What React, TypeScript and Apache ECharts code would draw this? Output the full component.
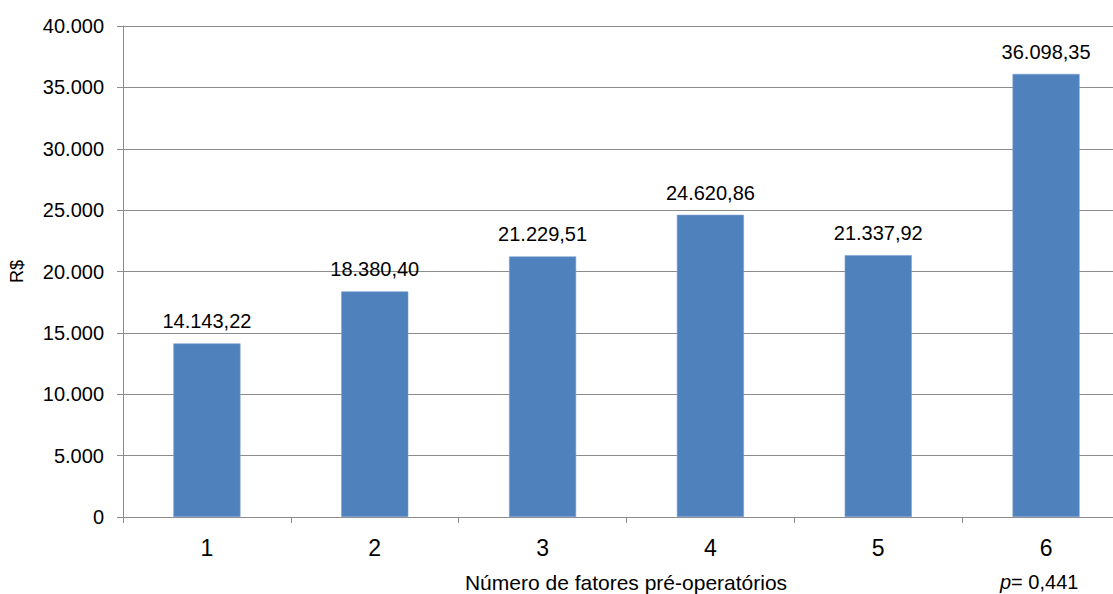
import React, { useEffect, useRef } from "react";
import * as echarts from "echarts";

const categories = ["1", "2", "3", "4", "5", "6"];
const values = [14143.22, 18380.4, 21229.51, 24620.86, 21337.92, 36098.35];
const yTicks = { min: 0, max: 40000, interval: 5000 };
const xTitle = "Número de fatores pré-operatórios";
const yTitle = "R$";
const pValue = "0,441";

const FONT = "Liberation Sans, Arial, sans-serif";

const fmtThousands = (v: number) =>
  Math.round(v).toString().replace(/\B(?=(\d{3})+(?!\d))/g, ".");

const fmtValue = (v: number) => {
  const [i, d] = v.toFixed(2).split(".");
  return fmtThousands(Number(i)) + "," + d;
};

export default function App() {
  const ref = useRef<HTMLDivElement>(null);

  useEffect(() => {
    if (!ref.current) return;
    const chart = echarts.init(ref.current, undefined, { renderer: "svg" });
    chart.setOption({
      animation: false,
      backgroundColor: "#ffffff",
      textStyle: { fontFamily: FONT },
      // the plot runs past the right edge of the visible frame
      grid: { left: 123, top: 26, width: 1007, height: 491 },
      xAxis: {
        type: "category",
        data: categories,
        axisLine: { lineStyle: { color: "#8c8c8c", width: 1 } },
        axisTick: { show: true, length: 6, alignWithLabel: false, lineStyle: { color: "#8c8c8c" } },
        axisLabel: { color: "#000", fontSize: 23, margin: 19, fontFamily: FONT },
      },
      yAxis: {
        type: "value",
        min: yTicks.min,
        max: yTicks.max,
        interval: yTicks.interval,
        name: yTitle,
        nameLocation: "middle",
        nameGap: 97,
        nameTextStyle: { color: "#000", fontSize: 18, fontFamily: FONT },
        axisLine: { show: true, lineStyle: { color: "#8c8c8c" } },
        axisTick: { show: true, length: 6, lineStyle: { color: "#8c8c8c" } },
        axisLabel: {
          color: "#000",
          fontSize: 20,
          margin: 19,
          fontFamily: FONT,
          formatter: (v: number) => fmtThousands(v),
        },
        splitLine: { show: true, lineStyle: { color: "#8c8c8c", width: 1 } },
      },
      series: [
        {
          type: "bar",
          data: values,
          barWidth: "40%",
          itemStyle: { color: "#4F81BD", borderColor: "#7FA3D3", borderWidth: 0.6 },
          label: {
            show: true,
            position: "top",
            distance: 12,
            color: "#000",
            fontSize: 20,
            fontFamily: FONT,
            formatter: (p: any) => fmtValue(p.value),
          },
        },
      ],
      graphic: [
        {
          type: "text",
          x: 626,
          y: 582,
          style: {
            text: xTitle,
            fill: "#000",
            font: `21px ${FONT}`,
            textAlign: "center",
            textVerticalAlign: "middle",
          },
        },
        {
          type: "text",
          x: 1000,
          y: 582,
          style: {
            text: "{i|p}{n|= " + pValue + "}",
            textVerticalAlign: "middle",
            rich: {
              i: { fontStyle: "italic", fontSize: 20, fontFamily: FONT, fill: "#000" },
              n: { fontSize: 20, fontFamily: FONT, fill: "#000" },
            },
          },
        },
      ],
    });
    return () => chart.dispose();
  }, []);

  return (
    <div
      style={{
        position: "absolute",
        left: 0,
        top: 0,
        width: 1113,
        height: 594,
        overflow: "hidden",
        background: "#fff",
      }}
    >
      <div ref={ref} style={{ width: 1140, height: 594 }} />
    </div>
  );
}
